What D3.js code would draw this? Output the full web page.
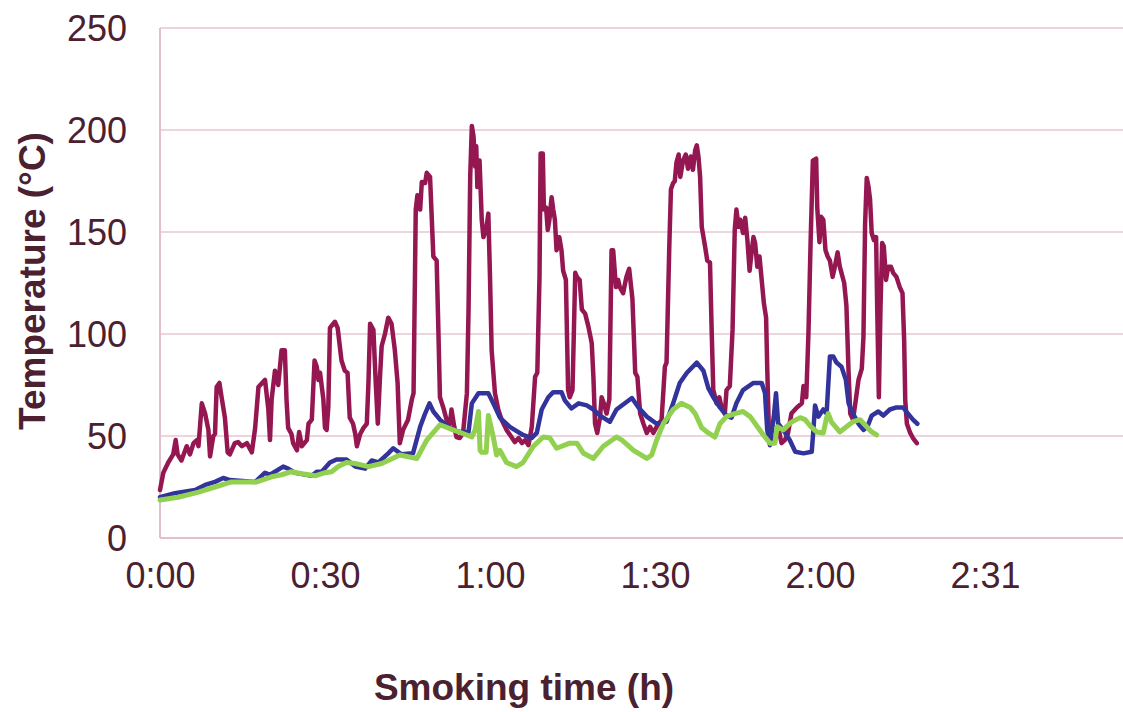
<!DOCTYPE html>
<html>
<head>
<meta charset="utf-8">
<script src="https://cdn.jsdelivr.net/npm/d3@7"></script>
<style>
	body { margin:0; background:#fff; }
	svg text { font-family:'Liberation Sans', Arial, sans-serif; fill:#4b2130; }
</style>
</head>
<body>
<svg id="chart" width="1123" height="712"></svg>
<script>

// minutes of smoking time, tick labels as printed
var xTickMin	= [0, 30, 60, 90, 120, 150],
		xTickLbl	= ['0:00', '0:30', '1:00', '1:30', '2:00', '2:31'],
		yTicks		= [0, 50, 100, 150, 200, 250];

// [minute, °C]
var smokeTemp = [
	[0,23.5],[0.6,32],[1.5,37],[2.4,41],[2.85,48],[3.2,41],[3.9,38],[4.85,45],[5.45,41],[6.1,46.5],[6.7,48],[7,45],
	[7.6,66],[8.2,61],[8.8,53],[9.1,40],[9.7,50],[10,51],[10.3,74],[10.8,76],[11.2,69],[11.8,59],[12.3,42],[12.7,41],
	[13.6,46.5],[14.2,47],[14.9,45],[15.8,46.5],[16.7,42],[17.3,54],[17.9,74],[19.1,77.5],[19.7,63],[20,48],[20.3,68],
	[20.9,82],[21.5,75],[22.1,92],[22.7,92],[23,68],[23.3,54],[23.9,51],[24.2,46.5],[24.9,43],[25.3,52],[25.8,45],
	[26.7,48],[27,56],[27.6,58],[28.1,87],[28.5,84],[28.8,77.5],[29.1,81],[29.7,68],[30,54],[30.3,53],[30.6,64],
	[30.9,103],[31.8,106],[32.3,103],[33,87],[33.6,82],[34.1,81],[34.5,59],[35.1,56],[35.5,51],[35.8,45],[36.4,51],
	[37,54],[37.6,56],[37.9,76],[38.2,105],[38.8,102],[39.2,77.5],[39.6,56],[40,79],[40.3,94],[40.9,100],[41.5,108],
	[42.1,105],[42.7,92],[43.2,76],[43.6,46.5],[44.2,53],[45.1,58],[45.8,68],[46.1,71],[46.5,161],[46.8,168],[47.3,161],
	[47.6,174.5],[48.2,174],[48.5,179],[49.1,177],[49.7,138],[50.3,136],[50.6,103.5],[50.9,69],[51.5,64],[52.1,58],
	[52.7,56],[53,63],[53.5,54.5],[53.9,49.5],[54.5,49],[55.1,51.5],[55.8,71],[56.1,112],[56.4,177],[56.7,202],[57,197],
	[57.3,182],[57.5,192],[57.7,172],[58.1,185],[58.5,156],[58.8,147.5],[59.3,151],[59.7,159],[60,128],[60.3,92],
	[60.9,71],[61.5,63],[62.1,58],[63,53],[63.9,49.5],[64.5,47],[65.2,49],[65.8,46.5],[66.4,48],[67,45.5],[67.6,54.5],
	[68.2,79],[68.6,81],[69,128],[69.2,188.5],[69.6,188.5],[69.8,161],[70.2,162],[70.5,151],[70.8,156],[71.2,167],
	[71.5,161],[71.8,156],[72.1,141],[72.6,147.5],[73,141],[73.3,131],[73.8,126.5],[74.2,72.5],[74.5,69],[75,72.5],
	[75.5,130],[75.8,128],[76.3,126.5],[76.7,112],[77.3,110],[77.9,103.5],[78.5,95.5],[78.8,79],[79.1,56],[79.5,51.5],
	[80,59],[80.3,69],[80.7,66],[81.2,61],[81.7,68],[82.1,141],[82.4,141],[82.9,123],[83.3,126.5],[83.6,123],[84.2,120],
	[84.8,128],[85.3,132],[85.9,117],[86.4,81],[86.8,79],[87.3,61],[87.9,56],[88.5,51.5],[89.1,54.5],[89.7,51.5],
	[90.3,54.5],[91.2,58],[91.8,84],[92.1,86],[92.6,143],[92.9,171],[93.3,174],[93.6,175],[93.9,184],[94.3,188],
	[94.6,177],[95.1,185],[95.6,188],[96,181],[96.5,187],[96.9,180.5],[97.3,190],[97.6,192.5],[97.9,187],[98.2,177],
	[98.5,152.5],[99.1,143],[99.5,136],[100,135],[100.3,102],[100.6,72.5],[101.2,66],[101.7,69],[102.1,64],[102.7,61],
	[103,72.5],[103.6,74.5],[104.1,102],[104.5,151],[104.8,161],[105.2,152.5],[105.5,156],[106,149.5],[106.4,157],
	[106.8,146],[107.2,131],[107.6,141],[107.9,147.5],[108.2,144.6],[108.6,133],[109,138],[109.4,126.5],[109.8,115],
	[110.2,108],[110.4,84],[110.7,53],[111.3,47],[112,50],[112.4,54.5],[113,46.5],[113.6,48],[114.2,51.5],[114.8,61],
	[115.8,64],[116.7,66],[117,74.5],[117.5,69],[117.9,100.5],[118.3,146],[118.7,185],[119.3,186],[119.5,162],[119.9,145],
	[120.2,157.5],[120.6,156],[121,141],[121.4,138],[121.8,136],[122.3,128],[122.7,133],[123.2,140],[123.6,133],
	[124.4,125],[124.8,114],[125.2,81],[125.5,61],[126,58],[126.5,67.5],[127,77.5],[127.6,83],[127.9,98.5],[128.2,154],
	[128.5,176.5],[128.8,172.5],[129.1,166],[129.4,149.5],[129.8,146],[130.2,147.5],[130.4,113],[130.7,69],[131,113],
	[131.3,144.6],[131.6,143],[132,126.5],[132.4,133],[132.9,133],[133.3,130],[133.9,128],[134.5,123],[135,120],
	[135.3,97],[135.5,67.5],[135.8,56],[136.4,51.5],[136.9,49],[137.6,46.5]
];

var chamberTemp = [
	[0,20],[2.7,22],[6.4,23.5],[8.2,26],[10,27.5],[11.5,29.4],[12.7,28.4],[17.3,27.5],[19.1,32],[20,31],[22.4,35],
	[23.3,34],[24.5,32],[27.6,30.5],[28.5,32.5],[29.4,32.5],[30.9,37],[32.1,38.5],[33.9,38.5],[35.5,35],[37.3,34],
	[38.5,38],[39.7,37],[41.5,41.5],[42.4,44],[43.9,41],[46,41.5],[47.3,54.5],[48.2,61],[49,66],[49.7,62],[50.9,58],
	[51.8,56],[53.3,53],[54.5,52],[56.1,52],[56.7,66],[57.9,71],[59.7,71],[60.6,66],[61.8,59],[63.6,54.5],[66,50.5],
	[67.6,49],[68.5,51.5],[69.4,63],[70.6,69],[71.5,71.5],[73,71.5],[73.6,67.5],[74.8,63.5],[76.1,66],[77.6,65],
	[78.8,63],[80,60],[81.8,57],[83,63],[85.8,68.6],[87,64],[88.5,59.5],[90.3,56],[92.1,57],[93.3,66],[94.5,76],
	[95.8,81],[97.6,86],[98.8,82],[99.7,73.5],[100.6,69],[101.8,64],[103,60],[103.9,59],[104.8,66],[106,72.5],
	[107.9,76],[109.4,76],[110,71],[110.4,53],[110.9,45.5],[111.6,59.5],[112,71],[112.4,56],[113.3,53],[114.5,48],
	[115.5,42.3],[117,41.5],[118.5,42.3],[118.8,53],[119.1,65],[119.7,59.5],[120.6,63],[121.2,61],[121.8,89],[122.4,89],
	[123,86],[123.9,84],[124.7,77.5],[125.2,66],[126,61],[127,56],[127.9,53],[128.6,54.5],[129.4,60],[130.6,62],
	[131.5,60],[132.7,63],[133.9,64],[135.1,64],[136,61],[136.9,58],[137.7,56]
];

var productTemp = [
	[0,18.6],[3.3,20],[7,22.5],[10,25],[13,27.5],[17.6,27.5],[20.3,30],[22.1,31],[23.9,32.5],[25.8,31.5],[28.2,30.5],
	[30,32],[31.2,32.5],[32.4,35],[33.9,37],[35.5,36.5],[37.9,35],[40.3,36.5],[41.5,38],[43.6,40.7],[46.7,39],[48.5,48],
	[50.9,55.5],[53.3,53],[55.8,50.5],[56.7,49.5],[57.3,53],[57.9,62],[58.2,43],[58.5,42],[59.3,42],[59.7,60],
	[60.6,49.5],[61.2,40.7],[61.8,43],[63,37],[64.8,35],[66,37],[67.9,45],[69.7,49.5],[70.9,49],[72.1,44],[74.5,46.5],
	[75.8,46.5],[77,41.5],[78.8,39],[80.6,45],[83,49.5],[84,48],[86.1,43],[88.5,39],[89.4,40.7],[90.3,48],[91.5,56],
	[93.3,63],[94.8,66],[96.4,64],[97.3,61],[98.5,54],[99.7,51.5],[100.9,49.5],[101.8,56],[103,59.5],[104.5,61],[106,62],
	[107.3,59.5],[108.5,55],[109.7,50.5],[110.9,46.5],[111.8,46.5],[112.2,54.5],[113.3,53],[114.8,56.8],[116.4,59],
	[117.3,58],[118.2,55],[119.4,52],[120.6,51.5],[121.2,59],[121.5,61],[122.1,56.8],[123.6,52],[124.8,54.5],[126,57],
	[127.3,58],[128.5,54.5],[129.4,52],[130.3,50.5]
];

var seriesList = [
	{ key:'smoke',   data:smokeTemp,   color:'#951752', w:4.5 },
	{ key:'chamber', data:chamberTemp, color:'#32339b', w:4.5 },
	{ key:'product', data:productTemp, color:'#92d050', w:5 },
];


//------------------------------------------------------------------
//
//------------------------------------------------------------------
function drawChart()	{

	var svg	= d3.select('#chart'),
			W		= 1123,
			x		= d3.scaleLinear().domain([0,180]).range([160,1150]),
			y		= d3.scaleLinear().domain([0,250]).range([538,28]);

	svg.append('rect').attr('width',W).attr('height',712).attr('fill','#fff');

	// grid
	svg.append('g')
		.call(sel=>{
			sel.selectAll('line').data(yTicks.filter(d=>d>0))
				.enter()
					.append('line')
						.attr('x1',x(0))
						.attr('x2',W)
						.attr('y1',d=>y(d))
						.attr('y2',d=>y(d))
						.attr('stroke','#ecd5dd')
						.attr('stroke-width',2);
		});

	// axes
	var yAxis = d3.axisLeft(y).tickValues(yTicks).tickSize(0).tickPadding(33);
	var xAxis = d3.axisBottom(x).tickValues(xTickMin).tickSize(0).tickPadding(24)
		.tickFormat((d,i)=>xTickLbl[i]);

	svg.append('g')
		.attr('transform','translate('+x(0)+',0)')
		.call(yAxis)
		.call(sel=>{
			sel.select('.domain').remove();
			sel.selectAll('text').attr('font-size',36).attr('fill','#4b2130').attr('dy','0.35em');
		});

	svg.append('g')
		.attr('transform','translate(0,'+y(0)+')')
		.call(xAxis)
		.call(sel=>{
			sel.select('.domain').remove();
			sel.selectAll('text').attr('font-size',36).attr('fill','#4b2130');
		});

	svg.append('line')
		.attr('x1',x(0)).attr('x2',x(0)).attr('y1',y(250)).attr('y2',y(0))
		.attr('stroke','#e2c0cb').attr('stroke-width',2);
	svg.append('line')
		.attr('x1',x(0)).attr('x2',W).attr('y1',y(0)).attr('y2',y(0))
		.attr('stroke','#e2c0cb').attr('stroke-width',2);

	// series
	var line = d3.line().x(d=>x(d[0])).y(d=>y(d[1]));

	svg.append('g')
		.selectAll('path').data(seriesList, d=>d.key)
		.enter()
			.append('path')
				.attr('d',d=>line(d.data))
				.attr('fill','none')
				.attr('stroke',d=>d.color)
				.attr('stroke-width',d=>d.w)
				.attr('stroke-linejoin','round')
				.attr('stroke-linecap','round');

	// titles
	svg.append('text')
		.attr('x',524)
		.attr('y',700)
		.attr('text-anchor','middle')
		.attr('font-size',37)
		.attr('font-weight','bold')
		.text('Smoking time (h)');

	svg.append('text')
		.attr('transform','translate(45,281) rotate(-90)')
		.attr('text-anchor','middle')
		.attr('font-size',37)
		.attr('font-weight','bold')
		.text('Temperature (°C)');

}

drawChart();

</script>
</body>
</html>
